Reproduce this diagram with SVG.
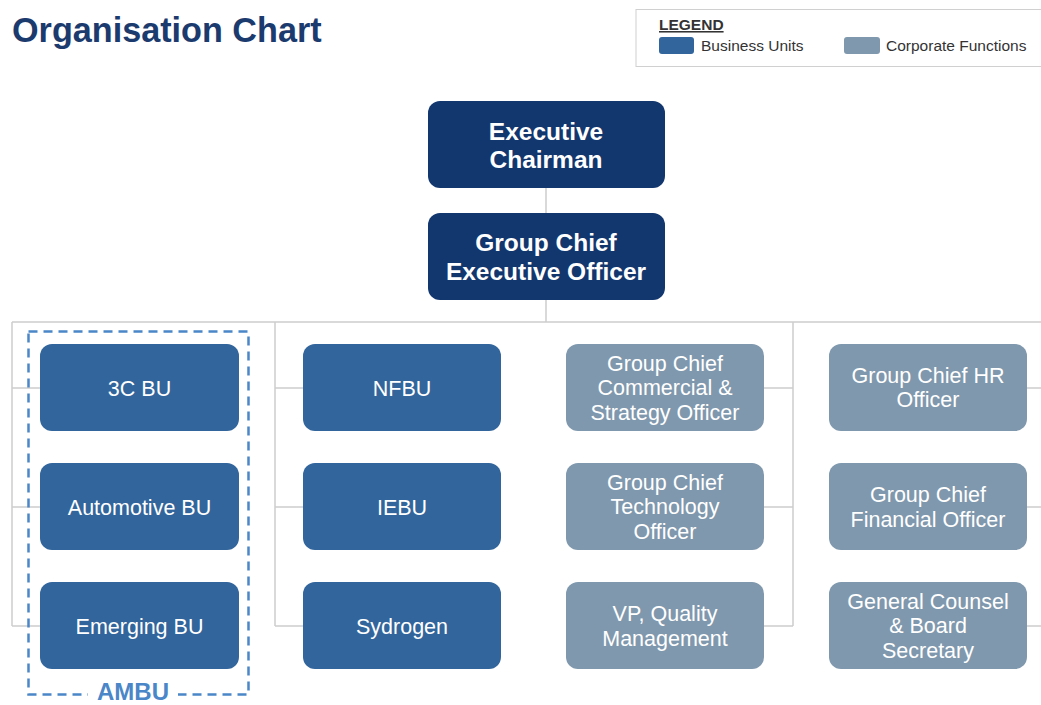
<svg xmlns="http://www.w3.org/2000/svg" width="1041" height="705" viewBox="0 0 1041 705">
<style>
  .t { font-family: "Liberation Sans", Arial, sans-serif; }
  .exec rect { fill: #12366e; }
  .bu rect { fill: #32659c; }
  .cf rect { fill: #7f98ad; }
  .exec text { fill: #fff; font-size: 24.5px; font-weight: bold; text-anchor: middle; font-family: "Liberation Sans", Arial, sans-serif; }
  .bu text, .cf text { fill: #fff; font-size: 21.5px; text-anchor: middle; font-family: "Liberation Sans", Arial, sans-serif; }
  .conn line { stroke: #cccccc; stroke-width: 1.5; }
</style>
<rect width="1041" height="705" fill="#ffffff"/>
<text class="t" x="12" y="42" font-size="34.2" font-weight="bold" fill="#1b3a6e">Organisation Chart</text>
<g id="legend">
  <rect x="636" y="9.5" width="410" height="57" fill="#fff" stroke="#d0d0d0" stroke-width="1"/>
  <text class="t" x="659" y="30" font-size="15.5" font-weight="bold" fill="#333" text-decoration="underline">LEGEND</text>
  <rect x="659" y="37" width="35" height="17" rx="3" fill="#32659c"/>
  <text class="t" x="701" y="51" font-size="15.5" fill="#333">Business Units</text>
  <rect x="844" y="37" width="36" height="17" rx="3" fill="#7f98ad"/>
  <text class="t" x="886" y="51" font-size="15.5" fill="#333">Corporate Functions</text>
</g>
<g id="connectors" class="conn">
  <line x1="546" y1="188" x2="546" y2="213"/>
  <line x1="546" y1="300" x2="546" y2="322"/>
  <line x1="12" y1="322" x2="1041" y2="322"/>
  <line x1="12" y1="322" x2="12" y2="626"/>
  <line x1="275" y1="322" x2="275" y2="626"/>
  <line x1="793" y1="322" x2="793" y2="626"/>
  <line x1="12" y1="388" x2="40" y2="388"/>
  <line x1="12" y1="507" x2="40" y2="507"/>
  <line x1="12" y1="626" x2="40" y2="626"/>
  <line x1="275" y1="388" x2="303" y2="388"/>
  <line x1="275" y1="507" x2="303" y2="507"/>
  <line x1="275" y1="626" x2="303" y2="626"/>
  <line x1="764" y1="388" x2="793" y2="388"/>
  <line x1="764" y1="507" x2="793" y2="507"/>
  <line x1="764" y1="626" x2="793" y2="626"/>
  <line x1="1027" y1="388" x2="1041" y2="388"/>
  <line x1="1027" y1="507" x2="1041" y2="507"/>
  <line x1="1027" y1="626" x2="1041" y2="626"/>
</g>
<g id="ambu">
  <rect x="28.5" y="331.5" width="220" height="363" fill="none" stroke="#4a86c8" stroke-width="2.5" stroke-dasharray="9 6"/>
  <rect x="88" y="684" width="90" height="21" fill="#fff"/>
  <text class="t" x="133" y="700" font-size="24" font-weight="bold" fill="#4a86c8" text-anchor="middle">AMBU</text>
</g>
<g id="executive-chairman" class="exec">
  <rect x="428" y="101" width="237" height="87" rx="12"/>
  <text x="546" y="140">Executive</text>
  <text x="546" y="168">Chairman</text>
</g>
<g id="group-ceo" class="exec">
  <rect x="428" y="213" width="237" height="87" rx="12"/>
  <text x="546" y="251">Group Chief</text>
  <text x="546" y="280">Executive Officer</text>
</g>
<g id="bu-3c" class="bu">
  <rect x="40" y="344" width="199" height="87" rx="12"/>
  <text x="139.5" y="395.5">3C BU</text>
</g>
<g id="bu-automotive" class="bu">
  <rect x="40" y="463" width="199" height="87" rx="12"/>
  <text x="139.5" y="514.5">Automotive BU</text>
</g>
<g id="bu-emerging" class="bu">
  <rect x="40" y="582" width="199" height="87" rx="12"/>
  <text x="139.5" y="633.5">Emerging BU</text>
</g>
<g id="bu-nfbu" class="bu">
  <rect x="303" y="344" width="198" height="87" rx="12"/>
  <text x="402" y="395.5">NFBU</text>
</g>
<g id="bu-iebu" class="bu">
  <rect x="303" y="463" width="198" height="87" rx="12"/>
  <text x="402" y="514.5">IEBU</text>
</g>
<g id="bu-sydrogen" class="bu">
  <rect x="303" y="582" width="198" height="87" rx="12"/>
  <text x="402" y="633.5">Sydrogen</text>
</g>
<g id="cf-commercial" class="cf">
  <rect x="566" y="344" width="198" height="87" rx="12"/>
  <text x="665" y="370.5">Group Chief</text>
  <text x="665" y="395">Commercial &amp;</text>
  <text x="665" y="419.5">Strategy Officer</text>
</g>
<g id="cf-technology" class="cf">
  <rect x="566" y="463" width="198" height="87" rx="12"/>
  <text x="665" y="489.5">Group Chief</text>
  <text x="665" y="514">Technology</text>
  <text x="665" y="538.5">Officer</text>
</g>
<g id="cf-quality" class="cf">
  <rect x="566" y="582" width="198" height="87" rx="12"/>
  <text x="665" y="621">VP, Quality</text>
  <text x="665" y="645.5">Management</text>
</g>
<g id="cf-hr" class="cf">
  <rect x="829" y="344" width="198" height="87" rx="12"/>
  <text x="928" y="382.5">Group Chief HR</text>
  <text x="928" y="406.5">Officer</text>
</g>
<g id="cf-finance" class="cf">
  <rect x="829" y="463" width="198" height="87" rx="12"/>
  <text x="928" y="502">Group Chief</text>
  <text x="928" y="526.5">Financial Officer</text>
</g>
<g id="cf-counsel" class="cf">
  <rect x="829" y="582" width="198" height="87" rx="12"/>
  <text x="928" y="608.5">General Counsel</text>
  <text x="928" y="633">&amp; Board</text>
  <text x="928" y="657.5">Secretary</text>
</g>
</svg>
